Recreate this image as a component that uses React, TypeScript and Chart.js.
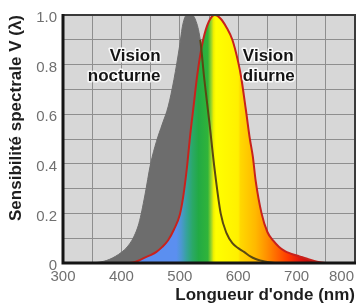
import { useEffect, useRef } from 'react';
import { Chart, registerables } from 'chart.js';

Chart.register(...registerables);

// Scotopic (night vision) sensitivity
const scotopicNm = [350, 360, 370, 380, 390, 400, 410, 420, 430, 440, 450, 460, 470, 480, 490, 500, 505, 512, 520, 527, 535, 542, 550, 560, 570, 580, 590, 600, 610, 620, 630, 640, 650, 665];
const scotopicV = [0, 0.003, 0.007, 0.015, 0.027, 0.043, 0.065, 0.1, 0.16, 0.27, 0.4, 0.49, 0.56, 0.63, 0.74, 0.88, 0.96, 1.0, 1.0, 0.98, 0.9, 0.74, 0.58, 0.37, 0.2, 0.12, 0.08, 0.06, 0.045, 0.028, 0.016, 0.009, 0.004, 0];

// Photopic (day vision) sensitivity
const photopicNm = [410, 420, 430, 440, 450, 460, 470, 480, 490, 500, 506, 512, 518, 524, 530, 540, 550, 560, 570, 580, 590, 600, 605, 613, 620, 625, 630, 640, 650, 660, 670, 680, 690, 700, 710, 720, 730, 740, 750];
const photopicV = [0, 0.002, 0.01, 0.022, 0.032, 0.045, 0.065, 0.092, 0.135, 0.195, 0.27, 0.38, 0.52, 0.64, 0.76, 0.9, 0.975, 1.0, 0.985, 0.95, 0.9, 0.81, 0.75, 0.62, 0.5, 0.43, 0.33, 0.2, 0.125, 0.09, 0.065, 0.048, 0.038, 0.03, 0.023, 0.015, 0.008, 0.003, 0];

// Spectrum colours used to paint the day-vision area
const spectrumNm = [400, 494, 502, 512, 522, 532, 548, 554, 558, 562, 600, 604, 630, 648, 665, 685, 705, 730, 760];
const spectrumColors = ['#5b8ff0', '#5b8ff0', '#4d97d2', '#35a39a', '#2aa866', '#22aa44', '#30b43a', '#9ed628', '#f2f000', '#ffff00', '#fff000', '#ffd800', '#ffb800', '#ff9200', '#ff6a00', '#ff3a00', '#e01810', '#b00a0a', '#800000'];

const xMin = 300;
const xMax = 800;
const xStep = 50;
const xLabelStep = 100;
const yStep = 0.1;

const yTitle = 'Sensibilité spectrale V (λ)';
const xTitle = "Longueur d'onde (nm)";

const noteTexts = ['Vision', 'nocturne', 'Vision', 'diurne'];
const noteNm = [467, 467, 608, 608];
const noteV = [0.816, 0.732, 0.816, 0.732];
const noteAlign: CanvasTextAlign[] = ['right', 'right', 'left', 'left'];

const FONT = '"Liberation Sans", Arial, Helvetica, sans-serif';

function interp(xs: number[], ys: number[], x: number) {
  if (x <= xs[0]) return ys[0];
  if (x >= xs[xs.length - 1]) return ys[ys.length - 1];
  for (let i = 1; i < xs.length; i++) {
    if (x <= xs[i]) {
      const t = (x - xs[i - 1]) / (xs[i] - xs[i - 1]);
      return ys[i - 1] + t * (ys[i] - ys[i - 1]);
    }
  }
  return 0;
}

export default function App() {
  const ref = useRef<HTMLCanvasElement>(null);

  useEffect(() => {
    const canvas = ref.current;
    if (!canvas) return;

    const scotopicPts = scotopicNm.map((x, i) => ({ x, y: scotopicV[i] }));
    const photopicPts = photopicNm.map((x, i) => ({ x, y: photopicV[i] }));

    const spectrum = (c: any) => {
      const chart = c.chart;
      const { chartArea, scales } = chart;
      if (!chartArea) return '#5b8ff0';
      const sx = scales.x;
      const x0 = sx.getPixelForValue(xMin);
      const x1 = sx.getPixelForValue(xMax);
      const g = chart.ctx.createLinearGradient(x0, 0, x1, 0);
      spectrumNm.forEach((nm, i) => {
        g.addColorStop((nm - xMin) / (xMax - xMin), spectrumColors[i]);
      });
      return g;
    };

    const bgPlugin = {
      id: 'plotBg',
      beforeDraw(chart: any) {
        const { ctx, chartArea: a } = chart;
        ctx.save();
        ctx.fillStyle = '#d7d7d7';
        ctx.fillRect(a.left, a.top, a.right - a.left, a.bottom - a.top);
        ctx.restore();
      },
    };

    const framePlugin = {
      id: 'frame',
      afterDatasetsDraw(chart: any) {
        const { ctx, chartArea: a } = chart;
        ctx.save();
        ctx.strokeStyle = '#3a3a3a';
        ctx.lineWidth = 2;
        ctx.beginPath();
        ctx.moveTo(a.left, a.top);
        ctx.lineTo(a.right, a.top);
        ctx.lineTo(a.right, a.bottom);
        ctx.stroke();
        ctx.strokeStyle = '#151515';
        ctx.lineWidth = 3;
        ctx.beginPath();
        ctx.moveTo(a.left, a.top - 1);
        ctx.lineTo(a.left, a.bottom);
        ctx.lineTo(a.right + 1, a.bottom);
        ctx.stroke();
        ctx.restore();
      },
    };

    const textPlugin = {
      id: 'texts',
      afterDraw(chart: any) {
        const { ctx, chartArea: a, scales } = chart;
        const sx = scales.x;
        const sy = scales.y;
        ctx.save();
        // x tick labels, kept inside the canvas
        ctx.font = `15px ${FONT}`;
        ctx.fillStyle = '#707070';
        ctx.textBaseline = 'top';
        ctx.textAlign = 'center';
        sx.ticks.forEach((t: any) => {
          if (!t.label) return;
          const label = String(t.label);
          const w = ctx.measureText(label).width;
          let x = sx.getPixelForValue(t.value);
          x = Math.min(x, chart.width - 4 - w / 2);
          x = Math.max(x, 2 + w / 2);
          ctx.fillText(label, x, a.bottom + 6);
        });
        // annotations
        ctx.font = `bold 17px ${FONT}`;
        ctx.textBaseline = 'alphabetic';
        ctx.lineJoin = 'round';
        noteTexts.forEach((txt, i) => {
          const x = sx.getPixelForValue(noteNm[i]);
          const y = sy.getPixelForValue(noteV[i]);
          ctx.textAlign = noteAlign[i];
          ctx.strokeStyle = 'rgba(255,255,255,0.85)';
          ctx.lineWidth = 3;
          ctx.strokeText(txt, x, y);
          ctx.fillStyle = '#141414';
          ctx.fillText(txt, x, y);
        });
        ctx.restore();
      },
    };

    const chart = new Chart(canvas, {
      type: 'line',
      data: {
        datasets: [
          {
            label: 'scotopic-line',
            data: scotopicPts,
            order: 1,
            fill: false,
            borderWidth: 2,
            borderColor: 'rgba(0,0,0,0)',
            pointRadius: 0,
            cubicInterpolationMode: 'monotone',
            segment: {
              borderColor: (c: any) => {
                const x1 = c.p1.parsed.x;
                const y1 = c.p1.parsed.y;
                return y1 < interp(photopicNm, photopicV, x1) - 0.005 ? '#5a4812' : 'rgba(0,0,0,0)';
              },
            },
          },
          {
            label: 'photopic',
            data: photopicPts,
            order: 2,
            fill: 'origin',
            backgroundColor: spectrum,
            borderColor: '#c8221c',
            borderWidth: 2,
            pointRadius: 0,
            cubicInterpolationMode: 'monotone',
          },
          {
            label: 'scotopic',
            data: scotopicPts,
            order: 3,
            fill: 'origin',
            backgroundColor: '#6d6d6d',
            borderColor: '#6d6d6d',
            borderWidth: 1,
            pointRadius: 0,
            cubicInterpolationMode: 'monotone',
          },
        ],
      },
      options: {
        responsive: false,
        animation: false,
        devicePixelRatio: 1,
        layout: { padding: { top: 13, right: 3, bottom: 0, left: 0 } },
        plugins: {
          legend: { display: false },
          tooltip: { enabled: false },
        },
        scales: {
          x: {
            type: 'linear',
            min: xMin,
            max: xMax,
            border: { display: false },
            grid: { color: '#8e8e8e', lineWidth: 1, drawTicks: false },
            ticks: {
              stepSize: xStep,
              autoSkip: false,
              maxRotation: 0,
              color: 'rgba(0,0,0,0)',
              font: { family: FONT, size: 15 },
              padding: 6,
              callback: (v: any) => (Number(v) % xLabelStep === 0 ? String(v) : ''),
            },
            title: {
              display: true,
              text: xTitle,
              align: 'end',
              color: '#1e1e1e',
              font: { family: FONT, size: 17, weight: 'bold' },
              padding: 0,
            },
            afterFit: (s: any) => {
              s.paddingRight = 0;
              s.paddingLeft = 0;
              s.height = 43;
            },
          },
          y: {
            type: 'linear',
            min: 0,
            max: 1,
            border: { display: false },
            grid: { color: '#8e8e8e', lineWidth: 1, drawTicks: false },
            ticks: {
              stepSize: yStep,
              autoSkip: false,
              color: '#707070',
              font: { family: FONT, size: 15 },
              padding: 6,
              labelOffset: 3,
              callback: (v: any) => {
                const n = Math.round(Number(v) * 10);
                if (n % 2 !== 0) return '';
                return n === 0 ? '0' : (n / 10).toFixed(1);
              },
            },
            title: {
              display: true,
              text: yTitle,
              align: 'end',
              color: '#1e1e1e',
              font: { family: FONT, size: 17, weight: 'bold' },
              padding: { top: 6, bottom: 0 },
            },
            afterFit: (s: any) => {
              s.width = 63;
            },
          },
        },
      },
      plugins: [bgPlugin, framePlugin, textPlugin],
    } as any);

    return () => chart.destroy();
  }, []);

  return (
    <div style={{ position: 'absolute', left: 0, top: 0, width: 358, height: 306 }}>
      <canvas ref={ref} width={358} height={306} style={{ display: 'block' }} />
    </div>
  );
}
